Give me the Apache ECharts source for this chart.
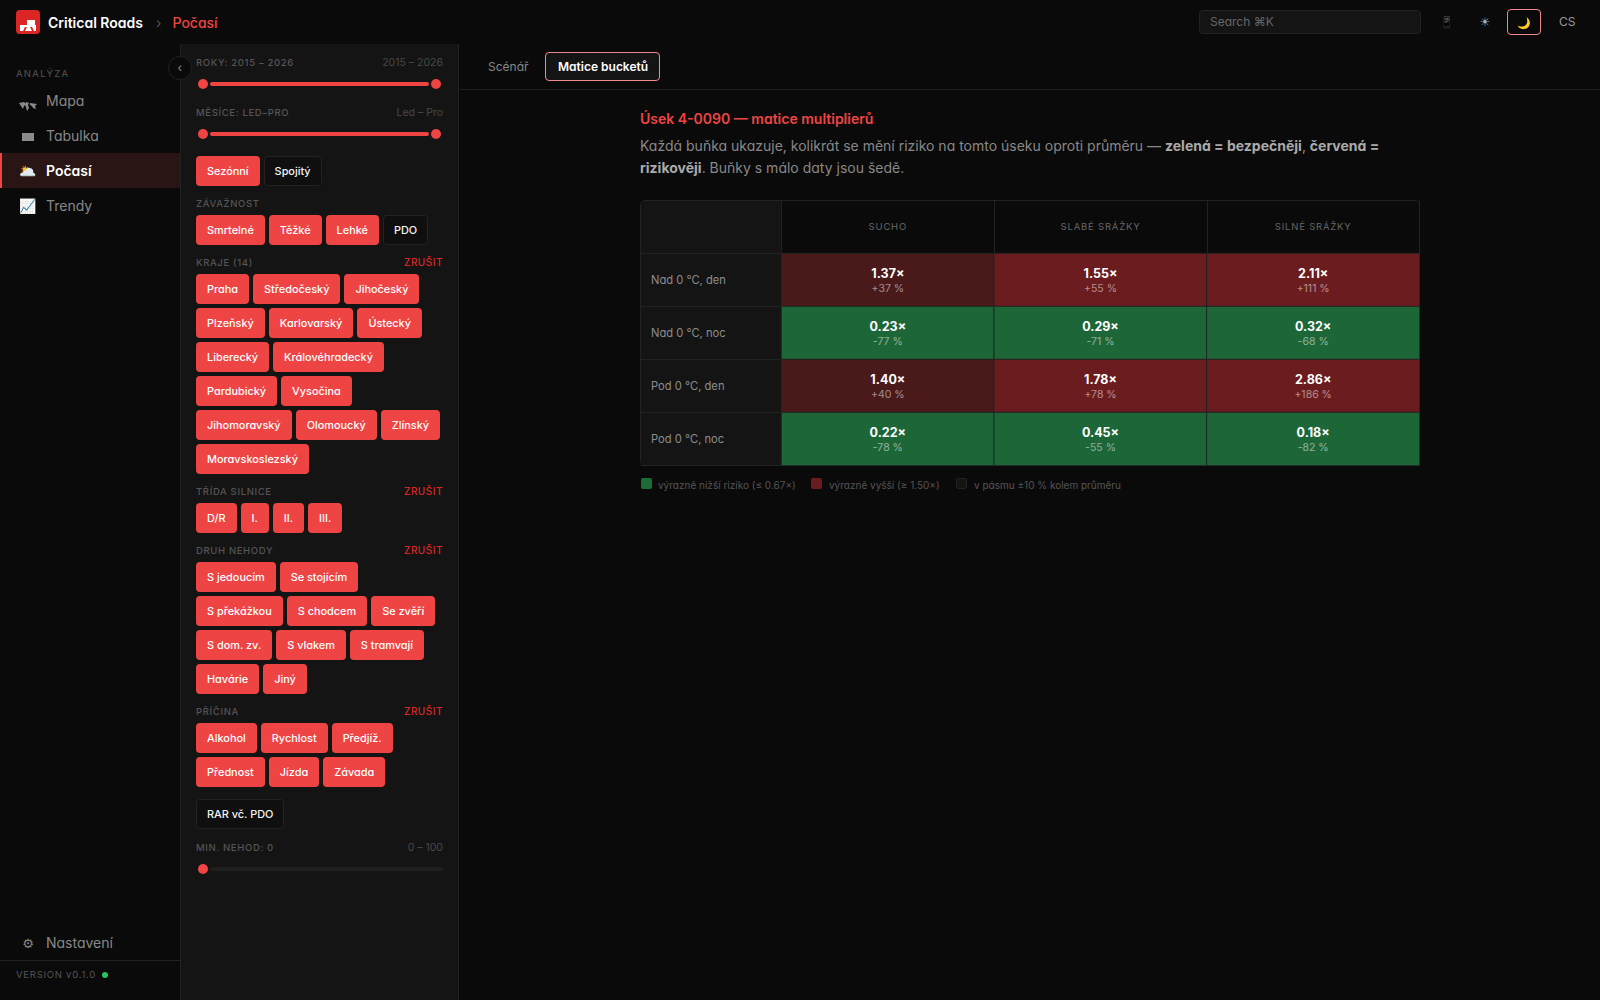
<!DOCTYPE html>
<html lang="cs">
<head>
<meta charset="utf-8">
<title>Critical Roads - Počasí</title>
<script src="https://cdn.jsdelivr.net/npm/echarts@6/dist/echarts.min.js"></script>
<style>
html, body { margin: 0; padding: 0; width: 1600px; height: 1000px; overflow: hidden; background: #0a0a0a;
  font-family: Inter, "Noto Sans", sans-serif; font-feature-settings: "cv11"; color: #888; }
.abs { position: absolute; white-space: nowrap; line-height: 1; }
.vc { transform: translateY(-50%); }
#panel { position: absolute; left: 180px; top: 44px; width: 279px; height: 956px; box-sizing: border-box; background: #141414; border-left: 1px solid #222; border-right: 1px solid #222; }
#side-rule { position: absolute; left: 0; top: 960px; width: 180px; height: 1px; background: #222; }
.lbl { font-size: 9.5px; font-weight: 500; letter-spacing: .65px; color: #555; }
.rng { font-size: 10.5px; color: #484848; }
.clr { font-size: 10px; font-weight: 500; letter-spacing: .5px; color: #dc2626; }
.chips { position: absolute; left: 196px; width: 248px; display: flex; flex-wrap: wrap; gap: 4px; }
.chip { box-sizing: border-box; height: 30px; line-height: 30px; padding: 0 11px; border-radius: 4px; font-size: 10.9px; font-weight: 500; white-space: nowrap; background: #ef4444; color: #fff; }
.chip.off { background: #0f0f0f; box-shadow: inset 0 0 0 1px #222; color: #f4f4f4; }
.nav { font-size: 14px; color: #888; left: 46px; }
.ico { left: 28px; font-size: 14px; transform: translate(-50%, -50%); font-family: "Noto Color Emoji", Inter, sans-serif; }
.sym { font-family: "DejaVu Sans", sans-serif; }
#matrix-card { position: absolute; left: 640px; top: 200px; width: 780px; height: 266px; box-sizing: border-box; border: 1px solid #222; border-radius: 5px; background: #0a0a0a; overflow: hidden; }
#matrix-side { position: absolute; left: 0; top: 0; width: 141px; height: 100%; background: #141414; }
#matrix { position: absolute; left: 640px; top: 200px; width: 780px; height: 266px; }
#matrix text[fill="#666"] { letter-spacing: .8px; }
.line { position: absolute; left: 640px; font-size: 14px; line-height: 22px; white-space: nowrap; color: #888; }
.line b { color: #aaa; font-weight: 700; }
</style>
</head>
<body>
<div id="panel"></div>
<div id="side-rule"></div>
<div style="position:absolute;left:460px;top:89px;width:1140px;height:1px;background:#1f1f1f"></div>
<div id="matrix-card"><div id="matrix-side"></div></div>
<div id="matrix"></div>
<div id="chrome"></div>

<script>
// Matrix data
var colLabels = ['SUCHO', 'SLABÉ SRÁŽKY', 'SILNÉ SRÁŽKY'];
var rowLabels = ['Nad 0 °C, den', 'Nad 0 °C, noc', 'Pod 0 °C, den', 'Pod 0 °C, noc'];
var nadDen = [1.37, 1.55, 2.11];
var nadNoc = [0.23, 0.29, 0.32];
var podDen = [1.40, 1.78, 2.86];
var podNoc = [0.22, 0.45, 0.18];
var deltaNadDen = ['+37 %', '+55 %', '+111 %'];
var deltaNadNoc = ['-77 %', '-71 %', '-68 %'];
var deltaPodDen = ['+40 %', '+78 %', '+186 %'];
var deltaPodNoc = ['-78 %', '-55 %', '-82 %'];

// Sidebar filters
var viewModes = ['Sezónní', 'Spojitý'];
var severities = ['Smrtelné', 'Těžké', 'Lehké', 'PDO'];
var regions = ['Praha', 'Středočeský', 'Jihočeský', 'Plzeňský', 'Karlovarský', 'Ústecký', 'Liberecký', 'Královéhradecký', 'Pardubický', 'Vysočina', 'Jihomoravský', 'Olomoucký', 'Zlínský', 'Moravskoslezský'];
var roadClasses = ['D/R', 'I.', 'II.', 'III.'];
var crashTypes = ['S jedoucím', 'Se stojícím', 'S překážkou', 'S chodcem', 'Se zvěří', 'S dom. zv.', 'S vlakem', 'S tramvají', 'Havárie', 'Jiný'];
var causes = ['Alkohol', 'Rychlost', 'Předjíž.', 'Přednost', 'Jízda', 'Závada'];

var chrome = document.getElementById('chrome');

function text(str, left, top, cls, extra) {
	var el = document.createElement('div');
	el.className = 'abs vc ' + (cls || '');
	el.textContent = str;
	el.style.top = top + 'px';
	if (left < 0) {
		el.style.right = (-left) + 'px';
	} else {
		el.style.left = left + 'px';
	}
	if (extra) el.style.cssText += extra;
	chrome.appendChild(el);
	return el;
}

function box(css) {
	var el = document.createElement('div');
	el.style.cssText = 'position:absolute;' + css;
	chrome.appendChild(el);
	return el;
}

function chips(list, top, offList) {
	var wrap = document.createElement('div');
	wrap.className = 'chips';
	wrap.style.top = top + 'px';
	for (var i = 0; i < list.length; i++) {
		var c = document.createElement('div');
		c.className = 'chip' + (offList && offList.indexOf(list[i]) >= 0 ? ' off' : '');
		c.textContent = list[i];
		wrap.appendChild(c);
	}
	chrome.appendChild(wrap);
}

function slider(y, full) {
	if (full) {
		box('left:210px;top:' + (y - 2) + 'px;width:219px;height:4px;border-radius:2px;background:#ef4444');
		box('left:198px;top:' + (y - 5) + 'px;width:10px;height:10px;border-radius:5px;background:#ef4444');
		box('left:431px;top:' + (y - 5) + 'px;width:10px;height:10px;border-radius:5px;background:#ef4444');
	} else {
		box('left:210px;top:' + (y - 2) + 'px;width:233px;height:4px;border-radius:2px;background:#1f1f1f');
		box('left:198px;top:' + (y - 5) + 'px;width:10px;height:10px;border-radius:5px;background:#ef4444');
	}
}

function buildChrome() {
	// top bar
	box('left:16px;top:10px;width:24px;height:24px;border-radius:4px;background:#dc2626');
	box('left:20px;top:25px;width:16px;height:6px;background:#fff');
	box('left:27px;top:20px;width:8px;height:5px;background:#fff');
	box('left:24px;top:27px;width:2px;height:4px;background:#dc2626;transform:skewX(-25deg)');
	box('left:31px;top:27px;width:2px;height:4px;background:#dc2626;transform:skewX(25deg)');
	text('Critical Roads', 48, 23, '', 'font-size:14px;font-weight:600;color:#fff');
	text('›', 156, 23, '', 'font-size:14px;color:#555');
	text('Počasí', 172.5, 23, '', 'font-size:14px;font-weight:500;color:#ef4444');
	box('left:1199px;top:10px;width:222px;height:24px;box-sizing:border-box;background:#141414;border:1px solid #222;border-radius:4px');
	text('Search ⌘K', 1210, 22, '', 'font-size:12px;color:#666');
	text('📱', 1447, 22, 'ico', 'left:1447px;font-size:11px;filter:grayscale(.7) brightness(.8)');
	text('☀\uFE0E', 1485, 22, 'ico sym', 'left:1485px;font-size:12px;color:#9fb3c8');
	box('left:1507px;top:9px;width:34px;height:26px;box-sizing:border-box;border:1px solid #f08a8a;border-radius:4px');
	text('🌙', 1524, 22.5, 'ico', 'left:1524px;font-size:11px');
	text('CS', 1559, 22, '', 'font-size:12px;color:#999');

	// left nav
	text('ANALÝZA', 16, 73.5, '', 'font-size:9.5px;letter-spacing:1.3px;color:#555');
	box('left:0;top:153px;width:180px;height:35px;background:#2a1515');
	box('left:0;top:153px;width:2px;height:35px;background:#ef4444');
	var map = box('left:19px;top:96px;width:18px;height:10px');
	map.innerHTML = '<svg width="18" height="10" viewBox="0 0 18 10"><path d="M0 1 L5 0 L7 2 L5 4 L4 7 L2 4 Z M7 0 L10 1 L9 3 L10 6 L8 9 L7 5 L6 3 Z M11 1 L18 2 L16 4 L17 7 L14 6 L13 4 L11 3 Z" fill="#8a8a8a"/></svg>';
	box('left:22px;top:133px;width:12px;height:8px;background:#8a8a8a');
	text('🌥', 28, 171, 'ico');
	text('📈', 28, 206, 'ico', 'filter:hue-rotate(200deg) saturate(.7)');
	text('Mapa', 46, 101, 'nav');
	text('Tabulka', 46, 136, 'nav');
	text('Počasí', 46, 171, 'nav', 'color:#fff;font-weight:600');
	text('Trendy', 46, 206, 'nav');
	text('⚙\uFE0E', 28, 943, 'ico sym', 'font-size:13px;color:#888');
	text('Nastavení', 46, 943, 'nav');
	text('VERSION v0.1.0', 16, 975, '', 'font-size:9.5px;letter-spacing:.75px;color:#555');
	box('left:102px;top:972px;width:6px;height:6px;border-radius:3px;background:#22c55e');

	// collapse handle
	box('left:168px;top:56px;width:24px;height:24px;box-sizing:border-box;border-radius:12px;background:#0a0a0a;border:1px solid #222');
	text('‹', 177.5, 68, '', 'font-size:12px;color:#888');

	// filter panel
	text('ROKY: 2015 – 2026', 196, 62.5, 'lbl');
	text('2015 – 2026', -(1600 - 443), 62.5, 'rng');
	slider(84, true);
	text('MĚSÍCE: LED–PRO', 196, 112.5, 'lbl');
	text('Led – Pro', -(1600 - 443), 112.5, 'rng');
	slider(134, true);
	chips(viewModes, 156, ['Spojitý']);
	text('ZÁVAŽNOST', 196, 203.5, 'lbl');
	chips(severities, 215, ['PDO']);
	text('KRAJE (14)', 196, 262.5, 'lbl');
	text('ZRUŠIT', -(1600 - 443), 262, 'clr');
	chips(regions, 274);
	text('TŘÍDA SILNICE', 196, 491.5, 'lbl');
	text('ZRUŠIT', -(1600 - 443), 491, 'clr');
	chips(roadClasses, 503);
	text('DRUH NEHODY', 196, 550.5, 'lbl');
	text('ZRUŠIT', -(1600 - 443), 550, 'clr');
	chips(crashTypes, 562);
	text('PŘÍČINA', 196, 711.5, 'lbl');
	text('ZRUŠIT', -(1600 - 443), 711, 'clr');
	chips(causes, 723);
	chips(['RAR vč. PDO'], 799, ['RAR vč. PDO']);
	text('MIN. NEHOD: 0', 196, 848, 'lbl');
	text('0 – 100', -(1600 - 443), 848, 'rng');
	slider(869, false);

	// main header
	text('Scénář', 488, 67, '', 'font-size:12px;color:#888');
	box('left:545px;top:52px;width:115px;height:29px;box-sizing:border-box;border:1px solid #f08a8a;border-radius:4px;background:#141414');
	text('Matice bucketů', 558, 66.5, '', 'font-size:12px;font-weight:600;color:#fff');

	text('Úsek 4-0090 — matice multiplierů', 640, 119, '', 'font-size:14px;font-weight:600;color:#ef4444');
	var l1 = document.createElement('div');
	l1.className = 'line';
	l1.style.top = '135px';
	l1.innerHTML = '<span>Každá buňka ukazuje, kolikrát se mění riziko na tomto úseku oproti průměru — </span><b>zelená = bezpečněji</b><span>, </span><b>červená =</b>';
	chrome.appendChild(l1);
	var l2 = document.createElement('div');
	l2.className = 'line';
	l2.style.top = '157px';
	l2.innerHTML = '<b>rizikověji</b><span>. Buňky s málo daty jsou šedě.</span>';
	chrome.appendChild(l2);

	// matrix legend
	box('left:641px;top:478px;width:11px;height:11px;border-radius:2px;background:#1e6b3a');
	text('výrazně nižší riziko (≤ 0.67×)', 658, 484.5, '', 'font-size:10px;color:#555');
	box('left:811px;top:478px;width:11px;height:11px;border-radius:2px;background:#6b1c1e');
	text('výrazně vyšší (≥ 1.50×)', 829, 484.5, '', 'font-size:10px;color:#555');
	box('left:956px;top:478px;width:11px;height:11px;box-sizing:border-box;border-radius:2px;background:#141414;border:1px solid #222');
	text('v pásmu ±10 % kolem průměru', 974, 484.5, '', 'font-size:10px;color:#555');
}

function drawMatrix() {
	var rows = [nadDen, nadNoc, podDen, podNoc];
	var deltas = [deltaNadDen, deltaNadNoc, deltaPodDen, deltaPodNoc];
	var cells = [];
	for (var r = 0; r < rows.length; r++) {
		for (var c = 0; c < colLabels.length; c++) {
			cells.push({ value: [c, r, rows[r][c]], delta: deltas[r][c] });
		}
	}
	var myChart = echarts.init(document.getElementById('matrix'), null, { renderer: 'svg' });
	var option = {
		animation: false,
		backgroundColor: 'transparent',
		textStyle: { fontFamily: 'Inter' },
		tooltip: { show: false },
		grid: { left: 141.5, right: 0.5, top: 53.5, bottom: 0.5 },
		xAxis: {
			type: 'category',
			position: 'top',
			data: colLabels,
			axisLine: { show: false },
			axisTick: { show: true, length: 53, lineStyle: { color: '#222' } },
			axisLabel: { margin: 22, color: '#666', fontSize: 9.5 },
			splitLine: { show: false }
		},
		yAxis: {
			type: 'category',
			inverse: true,
			data: rowLabels,
			axisLine: { show: false },
			axisTick: { show: true, length: 141, lineStyle: { color: '#222' } },
			axisLabel: { margin: 130.5, align: 'left', color: '#8c8c8c', fontSize: 11.2 },
			splitLine: { show: false }
		},
		visualMap: {
			show: false,
			dimension: 2,
			type: 'piecewise',
			pieces: [
				{ lte: 0.67, color: '#1d6638' },
				{ gt: 0.67, lt: 1.5, color: '#4a1a1a' },
				{ gte: 1.5, color: '#6b1c1e' }
			]
		},
		series: [
			{
				type: 'heatmap',
				data: cells,
				silent: true,
				itemStyle: { borderColor: '#222', borderWidth: 1 },
				label: {
					show: true,
					offset: [0, 0.5],
					formatter: function (p) {
						return '{a|' + p.value[2].toFixed(2) + '×}\n{b|' + p.data.delta + '}';
					},
					rich: {
						a: { fontFamily: 'Inter', fontSize: 12.5, fontWeight: 700, color: '#fff', lineHeight: 15 },
						b: { fontFamily: 'Inter', fontSize: 10.5, color: 'rgba(255,255,255,0.5)', lineHeight: 15 }
					}
				}
			}
		]
	};
	myChart.setOption(option);
}

buildChrome();
drawMatrix();
</script>
</body>
</html>
